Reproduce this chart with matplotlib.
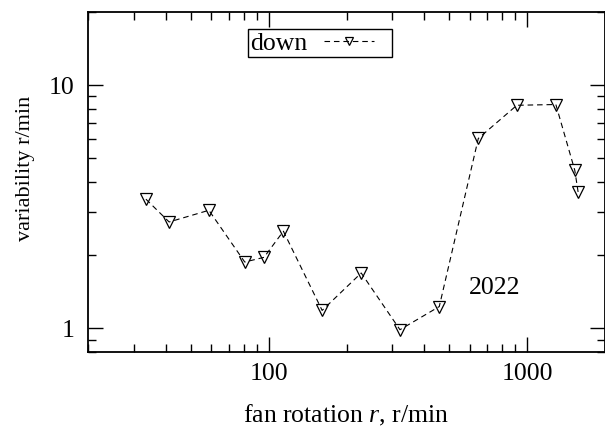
import numpy as np
import matplotlib.pyplot as plt
from matplotlib.ticker import LogLocator, FixedLocator, NullFormatter
from matplotlib.legend_handler import HandlerLine2D

plt.rcParams['font.family'] = ['Liberation Serif', 'DejaVu Serif']
plt.rcParams['mathtext.fontset'] = 'custom'
plt.rcParams['mathtext.it'] = 'Liberation Serif:italic'
plt.rcParams['mathtext.rm'] = 'Liberation Serif'

# fan rotation (r/min) and variability (r/min)
rotation = [33.5, 41.2, 58.7, 80.8, 95.9, 114, 161, 228, 322, 457,
            647, 912, 1291, 1528, 1574]
variability = [3.40, 2.74, 3.06, 1.875, 1.96, 2.51, 1.186, 1.69, 0.988, 1.23,
               6.04, 8.27, 8.33, 4.47, 3.64]

series_label = 'down'
note = '2022'


class ShortLine(HandlerLine2D):
    # legend line that stops short of the right edge of the handle box
    def get_xdata(self, legend, xdescent, ydescent, width, height, fontsize):
        w = width * 0.76
        return [-xdescent, -xdescent + w], [-xdescent + 0.5 * w]


fs = 18.5
fig = plt.figure(figsize=(6.05, 4.29), dpi=100)
ax = fig.add_axes([88 / 605, 1 - 352 / 429, 517 / 605, 340 / 429])

line, = ax.plot(rotation, variability, color='black', lw=0.8, dashes=(5, 3.5),
                marker='v', ms=8.5, mfc='none', mec='black', mew=0.9,
                label=series_label)

ax.set_xscale('log')
ax.set_yscale('log')
ax.set_xlim(20, 2000)
ax.set_ylim(0.8, 20)

ax.xaxis.set_major_locator(FixedLocator([100, 1000]))
ax.yaxis.set_major_locator(FixedLocator([1, 10]))
ax.xaxis.set_major_formatter(plt.FuncFormatter(lambda v, p: '%d' % v))
ax.yaxis.set_major_formatter(plt.FuncFormatter(lambda v, p: '%d' % v))
ax.xaxis.set_minor_locator(LogLocator(base=10, subs=np.arange(2, 10)))
ax.yaxis.set_minor_locator(LogLocator(base=10, subs=np.arange(2, 10)))
ax.xaxis.set_minor_formatter(NullFormatter())
ax.yaxis.set_minor_formatter(NullFormatter())

ax.tick_params(which='both', direction='in', top=True, right=True,
               labelsize=fs, width=1.0)
ax.tick_params(axis='x', pad=8)
ax.tick_params(axis='y', pad=10)
ax.tick_params(which='major', length=11)
ax.tick_params(which='minor', length=5.5)
for s in ax.spines.values():
    s.set_linewidth(1.3)

ax.set_xlabel('fan rotation $\\mathit{r}$, r/min', fontsize=fs)
ax.set_ylabel('variability r/min', fontsize=16)
ax.xaxis.set_label_coords(0.5, -0.15)
ax.yaxis.set_label_coords(-0.1025, 0.54)

ax.text(747, 1.47, note, fontsize=fs, ha='center', va='center')

leg = ax.legend(loc='upper left', bbox_to_anchor=(160 / 517, 1 - 17 / 340),
                fontsize=fs, markerfirst=False, fancybox=False, framealpha=1,
                edgecolor='black', handlelength=2.55, borderpad=0.1,
                handletextpad=0.62, borderaxespad=0, markerscale=0.65,
                handler_map={line: ShortLine()})
leg.get_frame().set_linewidth(1.0)

fig.savefig('out.png', dpi=100)
